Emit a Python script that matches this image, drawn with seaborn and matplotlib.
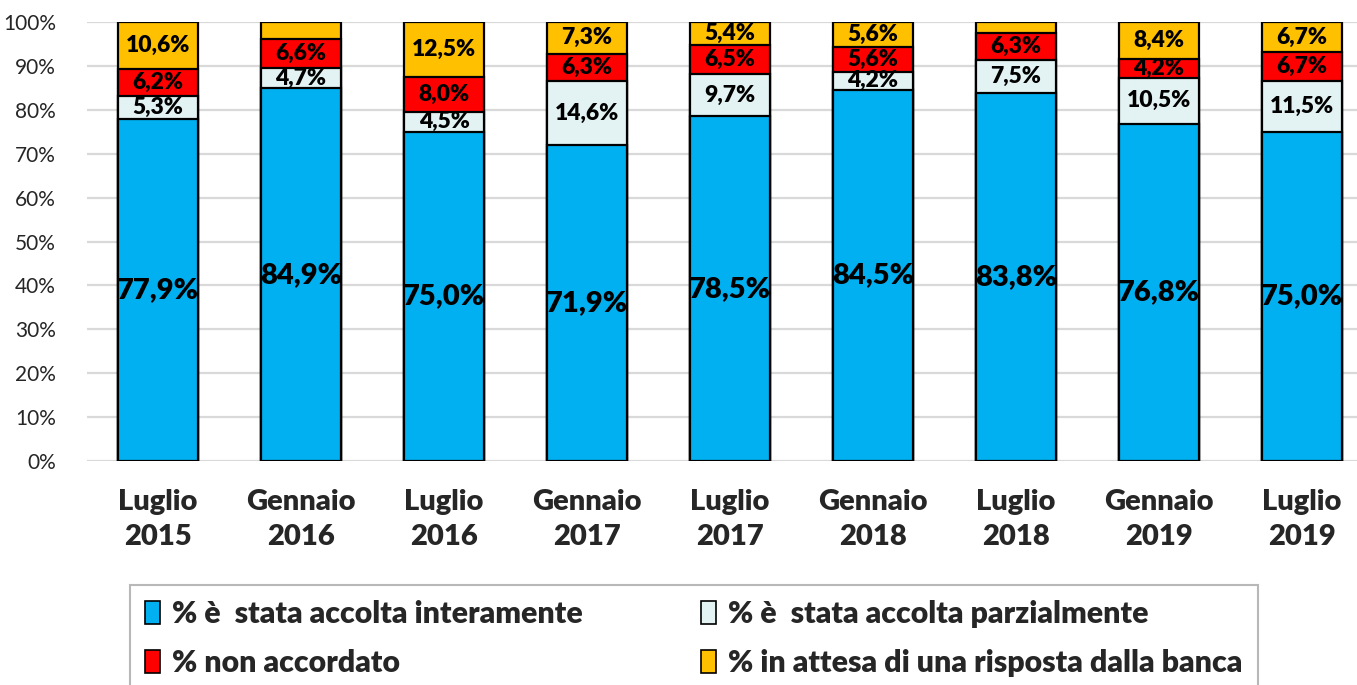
import numpy as np
import pandas as pd
import seaborn as sns
import matplotlib.pyplot as plt
from matplotlib.patches import Patch

sns.set_theme(style="white")
plt.rcParams['font.family'] = ['Lato', 'DejaVu Sans']

# data (share of requests, %)
periodi = ["Luglio\n2015", "Gennaio\n2016", "Luglio\n2016", "Gennaio\n2017", "Luglio\n2017",
           "Gennaio\n2018", "Luglio\n2018", "Gennaio\n2019", "Luglio\n2019"]
accolta_int = [77.9, 84.9, 75.0, 71.9, 78.5, 84.5, 83.8, 76.8, 75.0]
accolta_parz = [5.3, 4.7, 4.5, 14.6, 9.7, 4.2, 7.5, 10.5, 11.5]
non_accordato = [6.2, 6.6, 8.0, 6.3, 6.5, 5.6, 6.3, 4.2, 6.7]
in_attesa = [10.6, 3.8, 12.5, 7.3, 5.4, 5.6, 2.4, 8.4, 6.7]
# labels shown for the waiting share (two small ones are not labelled)
attesa_lbl = ["10,6%", None, "12,5%", "7,3%", "5,4%", "5,6%", None, "8,4%", "6,7%"]

serie = ["% è  stata accolta interamente", "% è  stata accolta parzialmente",
         "% non accordato", "% in attesa di una risposta dalla banca"]
colori = ["#00B0F0", "#E3F3F4", "#FF0000", "#FFC000"]

df = pd.DataFrame({"periodo": periodi, serie[0]: accolta_int, serie[1]: accolta_parz,
                   serie[2]: non_accordato, serie[3]: in_attesa})
vals = df[serie].values
cum = np.cumsum(vals, axis=1)

fig = plt.figure(figsize=(13.57, 6.85), dpi=100)
ax = fig.add_axes([86.5/1357, 1-461/685, 1287/1357, 439/685])

# stacked bars: draw cumulative totals from the top layer down
for k in range(3, -1, -1):
    tmp = pd.DataFrame({"periodo": periodi, "v": cum[:, k]})
    sns.barplot(data=tmp, x="periodo", y="v", color=colori[k], saturation=1,
                width=0.56, edgecolor="black", linewidth=1.6, ax=ax, zorder=3)

# labels
for i in range(len(periodi)):
    for k in range(4):
        mid = cum[i, k] - vals[i, k] / 2
        if k == 0:
            txt, fs = f"{vals[i, k]:.1f}%".replace(".", ","), 21
        elif k == 3:
            txt, fs = attesa_lbl[i], 16.5
        else:
            txt, fs = f"{vals[i, k]:.1f}%".replace(".", ","), 16.5
        if txt is None:
            continue
        ax.text(i, mid, txt, ha="center", va="center", fontsize=fs,
                fontweight="heavy", color="black", zorder=5)

ax.set_ylim(0, 100)
ax.set_xlim(-0.5, 8.5)
ax.set_yticks(np.arange(0, 101, 10))
ax.set_yticklabels([f"{t}%" for t in range(0, 101, 10)], fontsize=15)
ax.tick_params(axis="y", length=0, pad=22)
ax.tick_params(axis="x", length=0, pad=20)
for lab in ax.get_xticklabels():
    lab.set_fontsize(21)
    lab.set_fontweight("heavy")
    lab.set_linespacing(1.45)
ax.set_xlabel("")
ax.set_ylabel("")
ax.yaxis.grid(True, color="#D9D9D9", linewidth=1.6, zorder=0)
ax.set_axisbelow(True)
for s in ax.spines.values():
    s.set_visible(False)

handles = [Patch(facecolor=colori[k], edgecolor="black", linewidth=1.2) for k in [0, 2, 1, 3]]
labels = [serie[k] for k in [0, 2, 1, 3]]
leg = fig.legend(handles, labels, ncol=2, loc="upper left",
                 bbox_to_anchor=(130/1357, 1-585/685), frameon=True, fancybox=False,
                 prop={"size": 21.8, "weight": "heavy"}, handlelength=0.5, handleheight=0.8,
                 handletextpad=0.4, columnspacing=3.9, labelspacing=0.7, borderpad=0.5,
                 borderaxespad=0)
leg.get_frame().set_edgecolor("#A6A6A6")
leg.get_frame().set_linewidth(1.5)

fig.savefig("out.png", dpi=100)
